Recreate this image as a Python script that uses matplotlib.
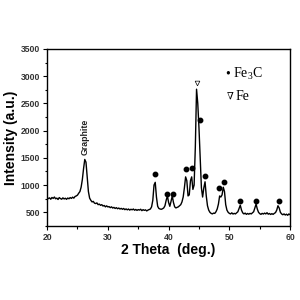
import numpy as np
import matplotlib
matplotlib.use("Agg")
from matplotlib import pyplot as plt
from matplotlib.ticker import MultipleLocator

# scan grid, 0.2 deg step
two_theta = np.round(np.arange(20.0, 60.01, 0.2), 1)

intensity = [
    770, 750, 765, 740, 772, 755, 780, 748, 760, 735,
    770, 752, 740, 765, 745, 758, 738, 762, 748, 770,
    755, 778, 760, 790, 800, 815, 850, 880, 960, 1100,
    1300, 1470, 1420, 1150, 880, 760, 720, 690, 700, 668,
    660, 672, 640, 650, 628, 640, 615, 625, 600, 618,
    598, 605, 585, 600, 578, 590, 570, 585, 565, 578,
    560, 572, 555, 570, 548, 562, 545, 560, 540, 556,
    545, 560, 538, 552, 535, 550, 540, 556, 530, 548,
    535, 545, 525, 540, 550, 560, 600, 720, 1000, 1050,
    780, 610, 570, 560, 555, 565, 580, 620, 720, 800,
    680, 610, 700, 800, 680, 600, 580, 590, 600, 620,
    640, 690, 780, 950, 1150, 1080, 800, 820, 1080, 1150,
    920, 1000, 1700, 2760, 2500, 2050, 1500, 950, 780, 950,
    1060, 800, 620, 540, 500, 480, 470, 485, 480, 510,
    560, 650, 800, 780, 820, 960, 880, 640, 540, 500,
    480, 470, 490, 468, 480, 470, 490, 510, 570, 630,
    540, 490, 470, 485, 462, 478, 465, 480, 470, 490,
    510, 580, 650, 560, 500, 475, 462, 480, 468, 485,
    470, 492, 465, 478, 460, 475, 462, 480, 495, 540,
    620, 580, 500, 470, 455, 470, 450, 465, 445, 470,
    455,
]

# Fe3C peak markers
fe3c_x = [37.8, 39.8, 40.8, 42.9, 43.9, 45.2, 46.0, 48.3, 49.2, 51.8, 54.4, 58.1]
fe3c_y = [1210, 840, 840, 1300, 1310, 2200, 1170, 950, 1060, 710, 710, 710]
# Fe peak marker
fe_x = [44.7]
fe_y = [2880]

graphite_x = 26.3
graphite_y = 1560

fig = plt.figure(figsize=(3, 3), dpi=100)
ax = fig.add_axes([0.157, 0.247, 0.81, 0.59])

ax.plot(two_theta, intensity, color="black", lw=1.0)
ax.plot(fe3c_x, fe3c_y, "o", color="black", ms=3.2, ls="none")
ax.plot(fe_x, fe_y, marker="v", mfc="white", mec="black", mew=0.5, ms=3.4, ls="none")

ax.text(graphite_x, graphite_y, "Graphite", rotation=90, ha="center", va="bottom",
        fontsize=6.3, fontweight="bold", family="Liberation Sans", color="#222222")

serif = ["Liberation Serif", "DejaVu Serif"]
ax.text(0.735, 0.86, "\u2022", transform=ax.transAxes, fontsize=10,
        family=serif, va="center", ha="left")
ax.text(0.765, 0.86, r"Fe$_\mathregular{3}$C", transform=ax.transAxes, fontsize=10,
        family=serif, va="center", ha="left")
ax.text(0.738, 0.735, "\u2207", transform=ax.transAxes, fontsize=7,
        family=serif, va="center", ha="left")
ax.text(0.775, 0.73, "Fe", transform=ax.transAxes, fontsize=10,
        family=serif, va="center", ha="left")

ax.set_xlim(20, 60)
ax.set_ylim(250, 3500)
ax.xaxis.set_major_locator(MultipleLocator(10))
ax.xaxis.set_minor_locator(MultipleLocator(5))
ax.yaxis.set_major_locator(MultipleLocator(500))
ax.yaxis.set_minor_locator(MultipleLocator(250))

ax.tick_params(which="both", direction="out", top=False, right=False, width=0.8,
               labelsize=6.2, labelcolor="#333333", pad=2)
ax.tick_params(which="major", length=3)
ax.tick_params(which="minor", length=1.8)
for lab in ax.get_xticklabels() + ax.get_yticklabels():
    lab.set_fontweight("bold")
    lab.set_family("Liberation Sans")

for sp in ax.spines.values():
    sp.set_linewidth(1.0)

ax.set_xlabel("2 Theta  (deg.)", fontsize=10, fontweight="bold", family="Liberation Sans", labelpad=1)
ax.set_ylabel("Intensity (a.u.)", fontsize=10, fontweight="bold", family="Liberation Sans", labelpad=2)

fig.savefig("out.png", dpi=100)
